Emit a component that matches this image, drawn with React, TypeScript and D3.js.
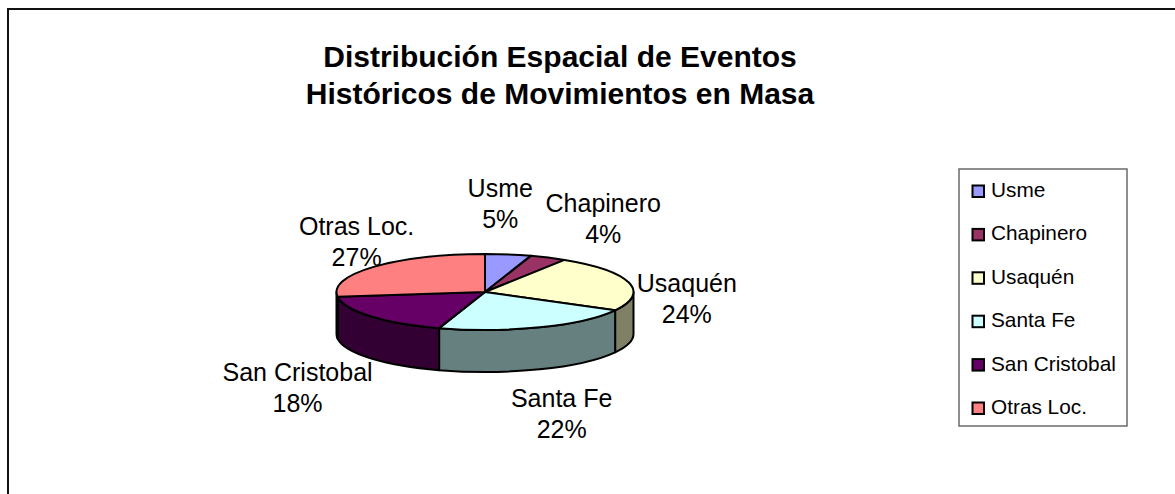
import * as d3 from "d3";

// chart data
const categories = ["Usme", "Chapinero", "Usaquén", "Santa Fe", "San Cristobal", "Otras Loc."];
const shares = [5, 4, 24, 22, 18, 27];
const colors = ["#9999ff", "#993366", "#ffffcc", "#ccffff", "#660066", "#ff8080"];
const titleLines = ["Distribución Espacial de Eventos", "Históricos de Movimientos en Masa"];

// label placement, relative to the slice's outer edge at mid angle
const labelNudge: [number, number][] = [
  [-8, -50],
  [55, -38],
  [58, 17],
  [22, 87],
  [-73, 72],
  [-17, -24],
];

const W = 1175;
const H = 494;
const font = "'Liberation Sans', Arial, Helvetica, sans-serif";

// pie geometry
const cx = 485;
const cy = 292;
const rx = 148.5;
const ry = 38;
const depth = 42;

const pt = (a: number, dy = 0) => [cx + rx * Math.sin(a), cy - ry * Math.cos(a) + dy];

const half = (c: string) => {
  const k = d3.rgb(c);
  return d3.rgb(k.r / 2, k.g / 2, k.b / 2).formatHex();
};

export default function App() {
  const arcs = d3.pie<number>().sort(null).value((d) => d)(shares);

  // side walls: only the front half of the disc (angles pi/2 .. 3pi/2)
  const walls = arcs
    .map((a, i) => {
      const s = Math.max(a.startAngle, Math.PI / 2);
      const e = Math.min(a.endAngle, (3 * Math.PI) / 2);
      if (s >= e) return null;
      const [x0, y0] = pt(s);
      const [x1, y1] = pt(e);
      const [x2, y2] = pt(e, depth);
      const [x3, y3] = pt(s, depth);
      const d = `M${x0},${y0} A${rx},${ry} 0 0 1 ${x1},${y1} L${x2},${y2} A${rx},${ry} 0 0 0 ${x3},${y3} Z`;
      return { d, fill: half(colors[i]), key: categories[i] };
    })
    .filter(Boolean) as { d: string; fill: string; key: string }[];

  const tops = arcs.map((a, i) => {
    const [x0, y0] = pt(a.startAngle);
    const [x1, y1] = pt(a.endAngle);
    const large = a.endAngle - a.startAngle > Math.PI ? 1 : 0;
    return {
      d: `M${cx},${cy} L${x0},${y0} A${rx},${ry} 0 ${large} 1 ${x1},${y1} Z`,
      fill: colors[i],
      key: categories[i],
    };
  });

  const labels = arcs.map((a, i) => {
    const mid = (a.startAngle + a.endAngle) / 2;
    const [ex, ey] = pt(mid);
    return {
      x: ex + labelNudge[i][0],
      y: ey + labelNudge[i][1],
      name: categories[i],
      pct: `${shares[i]}%`,
    };
  });

  const legendY = d3.scalePoint<string>().domain(categories).range([197, 414]);

  return (
    <div style={{ position: "absolute", left: 0, top: 0 }}>
      <svg width={W} height={H} style={{ display: "block", background: "#fff" }}>
        {/* outer frame */}
        <rect x={8} y={9} width={W} height={H} fill="#fff" stroke="#111" strokeWidth={2} />

        {/* title */}
        <text fontFamily={font} fontSize={30} fontWeight="bold" textAnchor="middle" fill="#000">
          {titleLines.map((t, i) => (
            <tspan key={t} x={560} y={67 + i * 37}>
              {t}
            </tspan>
          ))}
        </text>

        {/* pie walls then tops */}
        <g stroke="#000" strokeWidth={2} strokeLinejoin="round">
          {walls.map((w) => (
            <path key={"w" + w.key} d={w.d} fill={w.fill} />
          ))}
          {tops.map((t) => (
            <path key={"t" + t.key} d={t.d} fill={t.fill} />
          ))}
        </g>

        {/* data labels */}
        <g fontFamily={font} fontSize={25} textAnchor="middle" fill="#000">
          {labels.map((l) => (
            <text key={l.name}>
              <tspan x={l.x} y={l.y + 8 - 15.5}>
                {l.name}
              </tspan>
              <tspan x={l.x} y={l.y + 8 + 15.5}>
                {l.pct}
              </tspan>
            </text>
          ))}
        </g>

        {/* legend */}
        <rect x={959} y={169} width={168} height={257} fill="#fff" stroke="#6a6a6a" strokeWidth={1.5} />
        <g fontFamily={font} fontSize={20.8} fill="#000">
          {categories.map((c, i) => (
            <g key={c}>
              <rect
                x={972.5}
                y={legendY(c)! - 11.5}
                width={11.5}
                height={11.5}
                fill={colors[i]}
                stroke="#000"
                strokeWidth={2}
              />
              <text x={991} y={legendY(c)}>
                {c}
              </text>
            </g>
          ))}
        </g>
      </svg>
    </div>
  );
}
